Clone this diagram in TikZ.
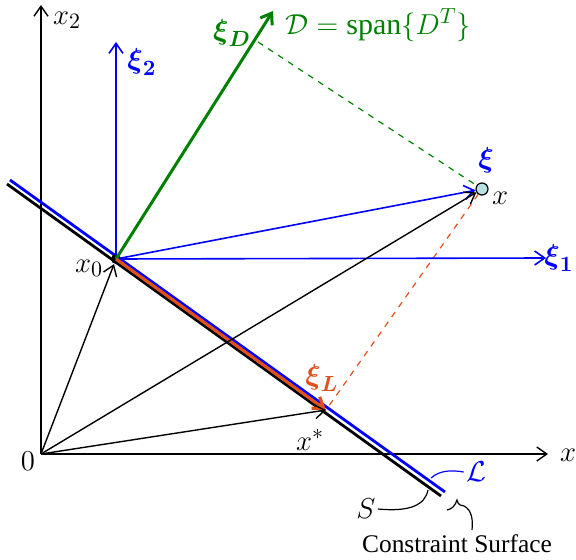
\documentclass[tikz,border=0pt]{standalone}
\usepackage{amsmath}
\usepackage{amssymb}
\usepackage{fontspec}
\setmainfont{Liberation Serif}
\usepackage{xcolor}
\usepackage{tikz}
\usetikzlibrary{arrows.meta}
\definecolor{surfblue}{HTML}{0000FF}
\definecolor{spangreen}{HTML}{008000}
\definecolor{projred}{HTML}{E0501C}
\definecolor{pointfill}{HTML}{B8E0E0}

\begin{document}
\begin{tikzpicture}[
    x=0.5pt, y=-0.5pt,
    >={Straight Barb[length=5pt, width=7pt]},
    every node/.style={font=\fontsize{15}{17}\selectfont, inner sep=1pt},
    axis/.style={->, line width=0.7pt},
    vec/.style={->, line width=0.7pt},
    bluevec/.style={->, line width=0.8pt, surfblue},
    surface/.style={line width=1.4pt},
    greenvec/.style={->, line width=1.5pt, spangreen},
    redvec/.style={->, line width=1.6pt, projred},
    proj/.style={dashed, line width=0.6pt},
    dot/.style={circle, fill=black, minimum size=5pt, inner sep=0pt},
    pointmark/.style={circle, draw=black, fill=pointfill, line width=0.6pt, minimum size=6pt, inner sep=0pt},
    leader/.style={line width=0.6pt}
]
\useasboundingbox (0,0) rectangle (576,560);

\coordinate (O) at (41,454);
\coordinate (x2tip) at (41,5);
\coordinate (x1tip) at (548,454);
\coordinate (xi2tip) at (116,42);
\coordinate (xi1tip) at (546,258);
\coordinate (xiDtip) at (273,11);
\coordinate (dfoot) at (258,42);
\coordinate (xs) at (326,410);
\coordinate (ls0) at (7,184);
\coordinate (ls1) at (441,496);
\coordinate (lb0) at (10,180);
\coordinate (lb1) at (445,492);

\draw[axis] (O) -- (x2tip);
\draw[axis] (O) -- (x1tip);

\draw[surface] (ls0) -- (ls1);
\draw[surface, surfblue] (lb0) -- (lb1);

\node[dot] (x0) at (116,259) {};
\node[pointmark] (xpt) at (482,189) {};

\draw[proj, spangreen] (dfoot) -- (xpt);
\draw[proj, projred] (xpt) -- (xs);

\draw[bluevec] (x0.center) -- (xi2tip);
\draw[bluevec] (x0.center) -- (xi1tip);
\draw[bluevec] (x0.center) -- (xpt);
\draw[greenvec] (x0.center) -- (xiDtip);
\draw[redvec] (x0.center) -- (xs);

\draw[vec] (O) -- (x0);
\draw[vec] (O) -- (xpt);
\draw[vec] (O) -- (xs);

\node (lx2) at (67,20) {$x_2$};
\node (lx1) at (568,455) {$x$};
\node (lO) at (28,461) {$0$};
\node (lx0) at (89,268) {$x_0$};
\node[surfblue] (lxi2) at (142,62) {$\boldsymbol{\xi}_{\boldsymbol{2}}$};
\node[surfblue] (lxi1) at (559,258) {$\boldsymbol{\xi}_{\boldsymbol{1}}$};
\node[spangreen] (lxiD) at (232,33) {$\boldsymbol{\xi}_{\boldsymbol{D}}$};
\node[spangreen, anchor=west] (lspan) at (283,25) {$\mathcal{D} = \mathrm{span}\{D^T\}$};
\node[surfblue] (lxi) at (486,160) {$\boldsymbol{\xi}$};
\node (lx) at (500,198) {$x$};
\node[projred] (lxiL) at (322,378) {$\boldsymbol{\xi}_{\boldsymbol{L}}$};
\node (lxs) at (310,440) {$x^*$};
\node (lS) at (366,509) {$S$};
\node[surfblue] (lL) at (476,472) {$\mathcal{L}$};
\node[font=\fontsize{12.7}{15}\selectfont] (lcs) at (457,544) {Constraint Surface};

\draw[leader] (lS.east) .. controls (410,512) and (425,505) .. (428,490);
\draw[leader, surfblue] (431,478) .. controls (440,470) and (452,470) .. (lL.west);
\draw[leader] (447,510) .. controls (452,509) and (455,506) .. (457,500)
              .. controls (458,505) and (461,506) .. (464,506)
              .. controls (472,510) and (473,520) .. (472,530);
\end{tikzpicture}
\end{document}
